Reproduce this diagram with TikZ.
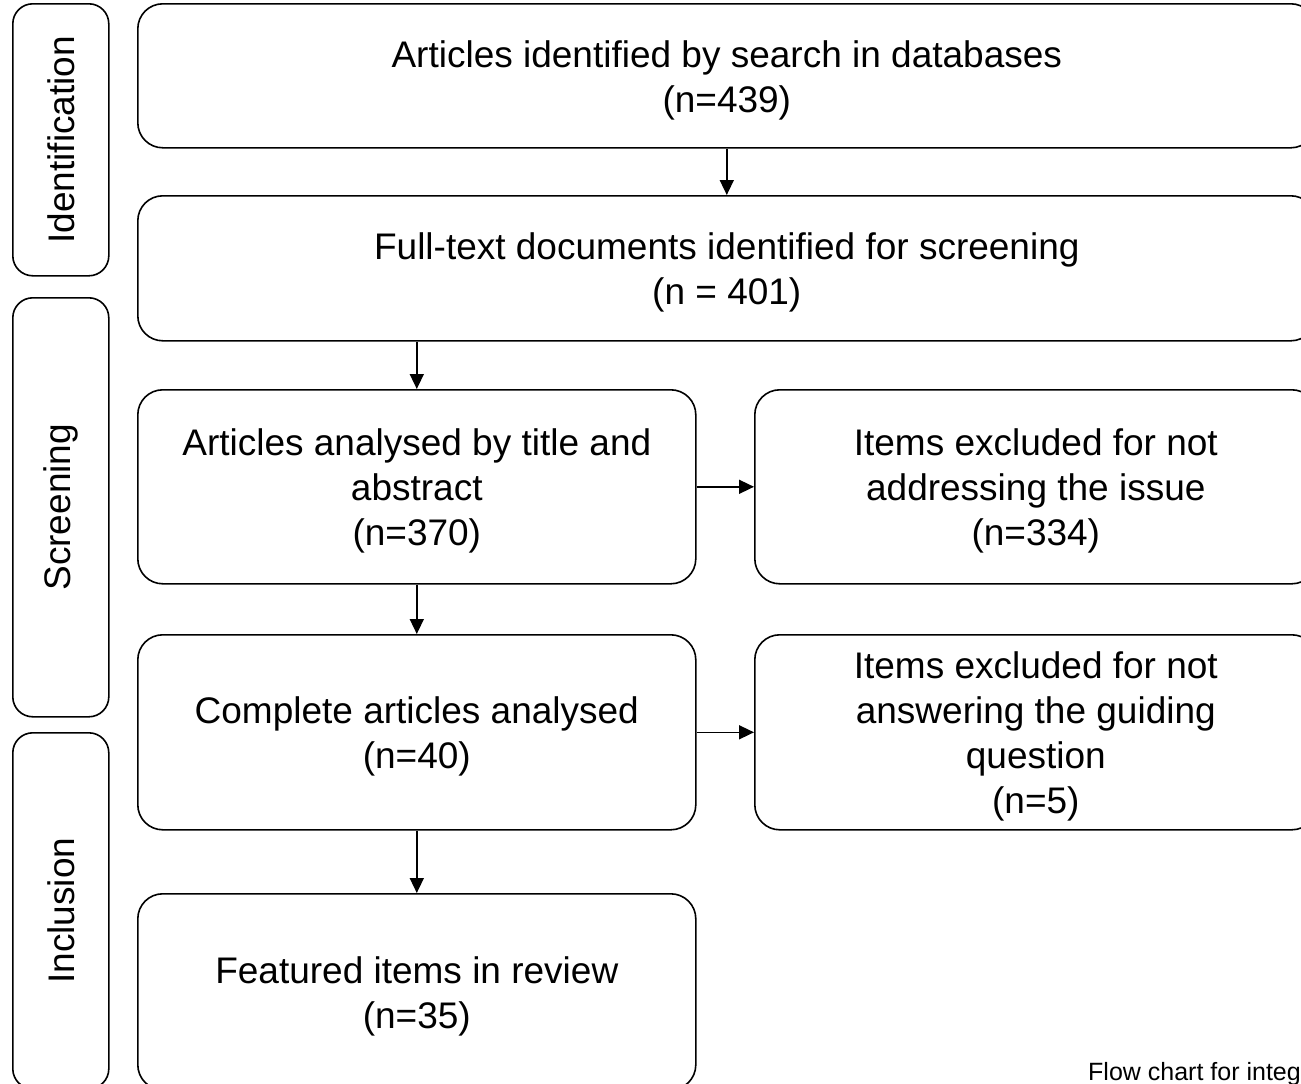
\documentclass[tikz,border=0pt]{standalone}
\usepackage{fontspec}
\setmainfont{Liberation Sans}
\usetikzlibrary{arrows.meta}
\begin{document}
\begin{tikzpicture}[x=1pt,y=-1pt,
  box/.style={draw, line width=1.6pt, rounded corners=25pt, anchor=north west,
    inner sep=0pt},
  txt/.style={align=center, inner sep=0pt, yshift=-4.5pt,
    font=\fontsize{37}{45}\selectfont},
  phase/.style={draw, line width=1.6pt, rounded corners=20pt, anchor=north west,
    inner sep=0pt, minimum width=96pt},
  phaselabel/.style={rotate=90, font=\fontsize{37}{45}\selectfont},
  flow/.style={line width=1.6pt, -{Triangle[length=15pt,width=14pt]}}]
\useasboundingbox (0,0) rectangle (1301,1084);
\clip (0,0) rectangle (1301,1084);

% phase bands on the left
\node[phase, minimum height=272pt] (ph1) at (12,3) {};
\node[phase, minimum height=419pt] (ph2) at (12,297) {};
\node[phase, minimum height=356pt] (ph3) at (12,732) {};
\node[phaselabel] (l1) at (ph1.center) {Identification};
\node[phaselabel] (l2) at (ph2.center) {Screening};
\node[phaselabel] (l3) at (ph3.center) {Inclusion};

% flow boxes
\node[box, minimum width=1178pt, minimum height=144pt] (b1) at (137,3) {};
\node[box, minimum width=1178pt, minimum height=145pt] (b2) at (137,195) {};
\node[box, minimum width=558pt, minimum height=194pt] (b3) at (137,389) {};
\node[box, minimum width=562pt, minimum height=194pt] (b4) at (754,389) {};
\node[box, minimum width=558pt, minimum height=195pt] (b5) at (137,634) {};
\node[box, minimum width=562pt, minimum height=195pt] (b6) at (754,634) {};
\node[box, minimum width=558pt, minimum height=196pt] (b7) at (137,893) {};

% box texts
\node[txt] (t1) at (b1.center) {Articles identified by search in databases\\(n=439)};
\node[txt] (t2) at (b2.center) {Full-text documents identified for screening\\(n = 401)};
\node[txt] (t3) at (b3.center) {Articles analysed by title and\\abstract\\(n=370)};
\node[txt] (t4) at (b4.center) {Items excluded for not\\addressing the issue\\(n=334)};
\node[txt] (t5) at (b5.center) {Complete articles analysed\\(n=40)};
\node[txt] (t6) at (b6.center) {Items excluded for not\\answering the guiding\\question\\(n=5)};
\node[txt] (t7) at (b7.center) {Featured items in review\\(n=35)};

% connectors
\draw[flow] (b1.south) -- (b2.north);
\draw[flow] (b3.north |- b2.south) -- (b3.north);
\draw[flow] (b3.south) -- (b5.north);
\draw[flow] (b5.south) -- (b7.north);
\draw[flow] (b3.east) -- (b4.west);
\draw[flow] (b5.east) -- (b6.west);

% caption
\node[anchor=base west, inner sep=0pt, font=\fontsize{25}{29}\selectfont] (cap) at (1088,1080)
  {Flow chart for integrative review};
\end{tikzpicture}
\end{document}
